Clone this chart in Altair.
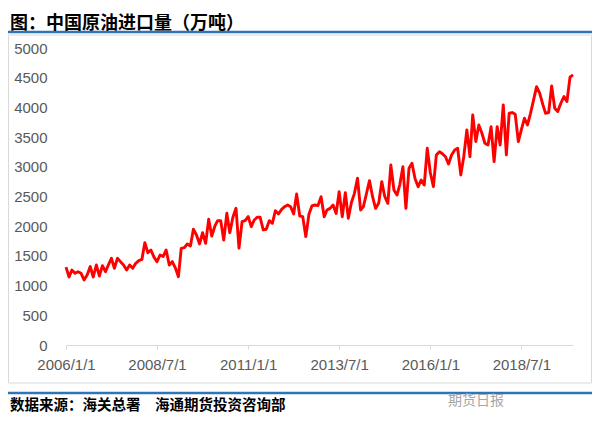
import altair as alt
import pandas as pd

# ---- data (万吨), monthly 2006-01 .. 2019-12 ----
v2006 = [1310, 1145, 1263, 1207, 1234, 1207, 1095, 1180, 1320, 1145, 1347, 1162]
v2007 = [1336, 1234, 1347, 1460, 1291, 1460, 1403, 1347, 1263, 1347, 1291, 1375]
v2008 = [1420, 1440, 1723, 1553, 1600, 1480, 1403, 1515, 1490, 1600, 1347, 1403]
v2009 = [1300, 1150, 1628, 1640, 1701, 1667, 1948, 1852, 1701, 1891, 1712, 2116]
v2010 = [1835, 2000, 2093, 2093, 1768, 2217, 1891, 2150, 2302, 1630, 2076, 2093]
v2011 = [2161, 1992, 2100, 2150, 2150, 1937, 1948, 2093, 2049, 2262, 2206, 2280]
v2012 = [2329, 2357, 2329, 2206, 2543, 2172, 2160, 1824, 2200, 2341, 2357, 2347]
v2013 = [2497, 2160, 2273, 2300, 2357, 2215, 2582, 2160, 2565, 2133, 2400, 2553]
v2014 = [2807, 2273, 2330, 2550, 2767, 2497, 2300, 2385, 2750, 2500, 2385, 3030]
v2015 = [2610, 2525, 2700, 3003, 2300, 2975, 3058, 2800, 2665, 2778, 2693, 3312]
v2016 = [2900, 2665, 3200, 3255, 3220, 3170, 3048, 3200, 3284, 3312, 2863, 3170]
v2017 = [3620, 3170, 3873, 3424, 3705, 3565, 3397, 3368, 3676, 3088, 3676, 3368]
v2018 = [4042, 3200, 3901, 3913, 3885, 3424, 3620, 3817, 3705, 3900, 4127, 4350]
v2019 = [4240, 4050, 3901, 3913, 4362, 3986, 3930, 4070, 4183, 4098, 4508, 4547]

values = (v2006 + v2007 + v2008 + v2009 + v2010 + v2011 + v2012 +
          v2013 + v2014 + v2015 + v2016 + v2017 + v2018 + v2019)
months = pd.date_range("2006-01-01", "2019-12-01", freq="MS").strftime("%Y-%m-%d").tolist()

tick_dates = [(2006, 1), (2008, 7), (2011, 1), (2013, 7), (2016, 1), (2018, 7)]
y_ticks = [0, 500, 1000, 1500, 2000, 2500, 3000, 3500, 4000, 4500, 5000]

title_text = "图：中国原油进口量（万吨）"
source_text = "数据来源：海关总署　海通期货投资咨询部"
mark_text_wm = "期货日报"

df = pd.DataFrame({"date": months, "value": values})
one = pd.DataFrame({"k": [0]})

W, H = 507, 297
NUMFONT = "Liberation Sans"
CJK = "Noto Sans CJK SC"
LABEL = "#595959"
BLUE = "#2E75B6"

x_enc = alt.X(
    "date:T",
    scale=alt.Scale(
        type="utc",
        domain=[alt.DateTime(year=2006, month=1, date=1, utc=True),
                alt.DateTime(year=2019, month=12, date=1, utc=True)],
    ),
    axis=alt.Axis(
        title=None,
        values=[alt.DateTime(year=y, month=m, date=1, utc=True) for y, m in tick_dates],
        labelExpr="utcFormat(datum.value, '%Y/%-m/%-d')",
        grid=False,
        domainColor="#D9D9D9",
        domainWidth=1,
        tickColor="#D9D9D9",
        tickSize=4,
        labelPadding=8,
        labelFlush=False,
        labelFont=NUMFONT,
        labelFontSize=15,
        labelColor=LABEL,
    ),
)
y_enc = alt.Y(
    "value:Q",
    scale=alt.Scale(domain=[0, 5000], nice=False),
    axis=alt.Axis(
        title=None,
        values=y_ticks,
        format="d",
        grid=False,
        domain=False,
        ticks=False,
        tickSize=0,
        labelPadding=19,
        labelFlush=False,
        labelFont=NUMFONT,
        labelFontSize=15,
        labelColor=LABEL,
    ),
)

line = alt.Chart(df).mark_line(color="#FF0000", strokeWidth=2.9, strokeJoin="round").encode(
    x=x_enc, y=y_enc
)

frame = alt.Chart(one).mark_rect(fill="transparent", stroke="#D9D9D9", strokeWidth=1).encode(
    x=alt.value(-57.5), x2=alt.value(525.5), y=alt.value(-13), y2=alt.value(335)
)
rule_top = alt.Chart(one).mark_rule(color=BLUE, strokeWidth=2.5).encode(
    x=alt.value(-58), x2=alt.value(526), y=alt.value(-16)
)
rule_bot = alt.Chart(one).mark_rule(color=BLUE, strokeWidth=2.5).encode(
    x=alt.value(-58), x2=alt.value(526), y=alt.value(345)
)
title = alt.Chart(one).mark_text(
    text=title_text, align="left", baseline="alphabetic", font=CJK,
    fontSize=18, fontWeight="bold", color="#000000"
).encode(x=alt.value(-56), y=alt.value(-19))
source = alt.Chart(one).mark_text(
    text=source_text, align="left", baseline="alphabetic", font=CJK,
    fontSize=14.5, fontWeight="bold", color="#000000"
).encode(x=alt.value(-56), y=alt.value(362))
wm = alt.Chart(one).mark_text(
    text=mark_text_wm, align="left", baseline="alphabetic", font=CJK,
    fontSize=14, color="#A6A6A6"
).encode(x=alt.value(382), y=alt.value(357))

chart = alt.layer(frame, rule_top, rule_bot, line, title, source, wm).properties(
    width=W,
    height=H,
    autosize=alt.AutoSizeParams(type="none"),
    padding={"left": 58, "top": 40, "right": 19, "bottom": 78},
).configure_view(stroke="transparent")

chart.save("out.html", embed_options={"renderer": "svg", "actions": False})
